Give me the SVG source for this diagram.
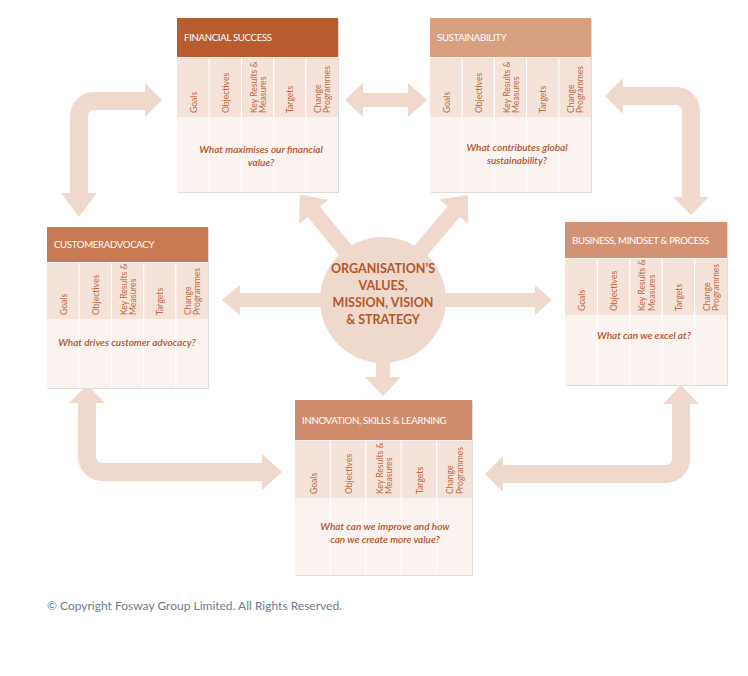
<svg xmlns="http://www.w3.org/2000/svg" width="748" height="676" viewBox="0 0 748 676">
<style>
.arrow{fill:#EFD9CC}
.shadow{fill:#DCDCDC}
.body{fill:#FBF3EF}
.cols{fill:#F5E3DA}
.div{stroke:#FFFFFF;stroke-width:1.2}
.hdr{font-family:Lato,"Liberation Sans",sans-serif;font-size:9.6px;fill:#FFFFFF;letter-spacing:-0.3px}
.col{font-family:Lato,"Liberation Sans",sans-serif;font-size:8.6px;fill:#BA6A44}
.q{font-family:Lato,"Liberation Sans",sans-serif;font-size:10px;font-style:italic;font-weight:600;fill:#B0542A;text-anchor:middle}
.ctr{font-family:Lato,"Liberation Sans",sans-serif;font-size:12.5px;font-weight:700;fill:#B5552A;text-anchor:middle}
.copy{font-family:Lato,"Liberation Sans",sans-serif;font-size:12px;fill:#6D7C8C}
</style>
<rect width="748" height="676" fill="#FFFFFF"/>

<g id="connectors">
  <path class="arrow" d="M162,100 L145,83 L145,92 L94,92 A24,24 0 0 0 70,116 L70,193 L61,193 L79,217 L97,193 L88,193 L88,116 A6,6 0 0 1 94,110 L145,110 L145,117 Z"/>
  <path class="arrow" d="M605,96 L623,78 L623,87 L676,87 A24,24 0 0 1 700,111 L700,197 L709,197 L691,215 L673,197 L682,197 L682,111 A6,6 0 0 0 676,105 L623,105 L623,114 Z"/>
  <path class="arrow" d="M87,385 L105,403 L96,403 L96,457 A6,6 0 0 0 102,463 L262,463 L262,454 L282,472 L262,490 L262,481 L102,481 A24,24 0 0 1 78,457 L78,403 L69,403 Z"/>
  <path class="arrow" d="M681,385 L699,404 L690,404 L690,459 A24,24 0 0 1 666,483 L503,483 L503,492 L485,474 L503,456 L503,465 L666,465 A6,6 0 0 0 672,459 L672,404 L663,404 Z"/>
  <path class="arrow" d="M345,100 L363,83 L363,93 L408,93 L408,83 L427,100 L408,117 L408,107 L363,107 L363,117 Z"/>
  <path class="arrow" d="M330,293 L240,293 L240,285 L222,300 L240,315 L240,307 L330,307 Z"/>
  <path class="arrow" d="M436,293 L535,293 L535,285 L552,300 L535,315 L535,307 L436,307 Z"/>
  <path class="arrow" d="M376,350 L376,377 L365,377 L383,396 L401,377 L390,377 L390,350 Z"/>
  <path class="arrow" transform="translate(355,262) rotate(-129.4)" d="M0,-8 L65,-8 L65,-19 L87,0 L65,19 L65,8 L0,8 Z"/>
  <path class="arrow" transform="translate(411,262) rotate(-49.6)" d="M0,-8 L66,-8 L66,-19 L88,0 L66,19 L66,8 L0,8 Z"/>
</g>

<g id="center">
  <circle cx="383" cy="300" r="63" fill="#EFD9CC"/>
  <text class="ctr" x="383" y="273">ORGANISATION’S</text>
  <text class="ctr" x="383" y="290">VALUES,</text>
  <text class="ctr" x="383" y="307">MISSION, VISION</text>
  <text class="ctr" x="383" y="324">&amp; STRATEGY</text>
</g>

<g id="financial">
  <rect class="shadow" x="178" y="19" width="161" height="174"/>
  <rect class="body" x="177" y="18" width="161" height="174"/>
  <rect x="177" y="18" width="161" height="39" fill="#B95D30"/>
  <rect class="cols" x="177" y="58" width="161" height="59"/>
  <line class="div" x1="209.2" y1="58" x2="209.2" y2="192"/>
  <line class="div" x1="241.4" y1="58" x2="241.4" y2="192"/>
  <line class="div" x1="273.6" y1="58" x2="273.6" y2="192"/>
  <line class="div" x1="305.8" y1="58" x2="305.8" y2="192"/>
  <text class="hdr" x="184" y="41">FINANCIAL SUCCESS</text>
  <text class="col" transform="translate(196.5,113) rotate(-90)">Goals</text>
  <text class="col" transform="translate(228.8,113) rotate(-90)">Objectives</text>
  <text class="col" transform="translate(256.5,113) rotate(-90)">Key Results &amp;</text>
  <text class="col" transform="translate(266,113) rotate(-90)">Measures</text>
  <text class="col" transform="translate(293.2,113) rotate(-90)">Targets</text>
  <text class="col" transform="translate(320.9,113) rotate(-90)">Change</text>
  <text class="col" transform="translate(330.4,113) rotate(-90)">Programmes</text>
  <text class="q" x="261" y="153">What maximises our financial</text>
  <text class="q" x="261" y="166">value?</text>
</g>

<g id="sustainability">
  <rect class="shadow" x="431" y="19" width="161" height="174"/>
  <rect class="body" x="430" y="18" width="161" height="174"/>
  <rect x="430" y="18" width="161" height="39" fill="#D6A081"/>
  <rect class="cols" x="430" y="58" width="161" height="59"/>
  <line class="div" x1="462.2" y1="58" x2="462.2" y2="192"/>
  <line class="div" x1="494.4" y1="58" x2="494.4" y2="192"/>
  <line class="div" x1="526.6" y1="58" x2="526.6" y2="192"/>
  <line class="div" x1="558.8" y1="58" x2="558.8" y2="192"/>
  <text class="hdr" x="437" y="41">SUSTAINABILITY</text>
  <text class="col" transform="translate(449.5,113) rotate(-90)">Goals</text>
  <text class="col" transform="translate(481.8,113) rotate(-90)">Objectives</text>
  <text class="col" transform="translate(509.5,113) rotate(-90)">Key Results &amp;</text>
  <text class="col" transform="translate(519,113) rotate(-90)">Measures</text>
  <text class="col" transform="translate(546.2,113) rotate(-90)">Targets</text>
  <text class="col" transform="translate(573.9,113) rotate(-90)">Change</text>
  <text class="col" transform="translate(583.4,113) rotate(-90)">Programmes</text>
  <text class="q" x="517" y="151">What contributes global</text>
  <text class="q" x="517" y="164">sustainability?</text>
</g>

<g id="customer">
  <rect class="shadow" x="48" y="228" width="161" height="161"/>
  <rect class="body" x="47" y="227" width="161" height="161"/>
  <rect x="47" y="227" width="161" height="35" fill="#C77A52"/>
  <rect class="cols" x="47" y="263" width="161" height="56"/>
  <line class="div" x1="79.2" y1="263" x2="79.2" y2="388"/>
  <line class="div" x1="111.4" y1="263" x2="111.4" y2="388"/>
  <line class="div" x1="143.6" y1="263" x2="143.6" y2="388"/>
  <line class="div" x1="175.8" y1="263" x2="175.8" y2="388"/>
  <text class="hdr" x="54" y="248">CUSTOMERADVOCACY</text>
  <text class="col" transform="translate(66.5,315) rotate(-90)">Goals</text>
  <text class="col" transform="translate(98.8,315) rotate(-90)">Objectives</text>
  <text class="col" transform="translate(126.5,315) rotate(-90)">Key Results &amp;</text>
  <text class="col" transform="translate(136,315) rotate(-90)">Measures</text>
  <text class="col" transform="translate(163.2,315) rotate(-90)">Targets</text>
  <text class="col" transform="translate(190.9,315) rotate(-90)">Change</text>
  <text class="col" transform="translate(200.4,315) rotate(-90)">Programmes</text>
  <text class="q" x="127" y="346">What drives customer advocacy?</text>
</g>

<g id="business">
  <rect class="shadow" x="566" y="223" width="162" height="163"/>
  <rect class="body" x="565" y="222" width="162" height="163"/>
  <rect x="565" y="222" width="162" height="36" fill="#D19275"/>
  <rect class="cols" x="565" y="259" width="162" height="56"/>
  <line class="div" x1="597.4" y1="259" x2="597.4" y2="385"/>
  <line class="div" x1="629.8" y1="259" x2="629.8" y2="385"/>
  <line class="div" x1="662.2" y1="259" x2="662.2" y2="385"/>
  <line class="div" x1="694.6" y1="259" x2="694.6" y2="385"/>
  <text class="hdr" x="572" y="244">BUSINESS, MINDSET &amp; PROCESS</text>
  <text class="col" transform="translate(584.5,311) rotate(-90)">Goals</text>
  <text class="col" transform="translate(617.1,311) rotate(-90)">Objectives</text>
  <text class="col" transform="translate(645,311) rotate(-90)">Key Results &amp;</text>
  <text class="col" transform="translate(654.5,311) rotate(-90)">Measures</text>
  <text class="col" transform="translate(681.9,311) rotate(-90)">Targets</text>
  <text class="col" transform="translate(709.8,311) rotate(-90)">Change</text>
  <text class="col" transform="translate(719.3,311) rotate(-90)">Programmes</text>
  <text class="q" x="644" y="339">What can we excel at?</text>
</g>

<g id="innovation">
  <rect class="shadow" x="296" y="401" width="177" height="175"/>
  <rect class="body" x="295" y="400" width="177" height="175"/>
  <rect x="295" y="400" width="177" height="40" fill="#CF8C6D"/>
  <rect class="cols" x="295" y="441" width="177" height="57"/>
  <line class="div" x1="330.4" y1="441" x2="330.4" y2="575"/>
  <line class="div" x1="365.8" y1="441" x2="365.8" y2="575"/>
  <line class="div" x1="401.2" y1="441" x2="401.2" y2="575"/>
  <line class="div" x1="436.6" y1="441" x2="436.6" y2="575"/>
  <text class="hdr" x="302" y="424">INNOVATION, SKILLS &amp; LEARNING</text>
  <text class="col" transform="translate(316.5,494) rotate(-90)">Goals</text>
  <text class="col" transform="translate(351.9,494) rotate(-90)">Objectives</text>
  <text class="col" transform="translate(382.5,494) rotate(-90)">Key Results &amp;</text>
  <text class="col" transform="translate(392,494) rotate(-90)">Measures</text>
  <text class="col" transform="translate(422.7,494) rotate(-90)">Targets</text>
  <text class="col" transform="translate(453.3,494) rotate(-90)">Change</text>
  <text class="col" transform="translate(462.8,494) rotate(-90)">Programmes</text>
  <text class="q" x="385" y="530">What can we improve and how</text>
  <text class="q" x="385" y="543">can we create more value?</text>
</g>

<text class="copy" x="47" y="610">© Copyright Fosway Group Limited. All Rights Reserved.</text>
</svg>
